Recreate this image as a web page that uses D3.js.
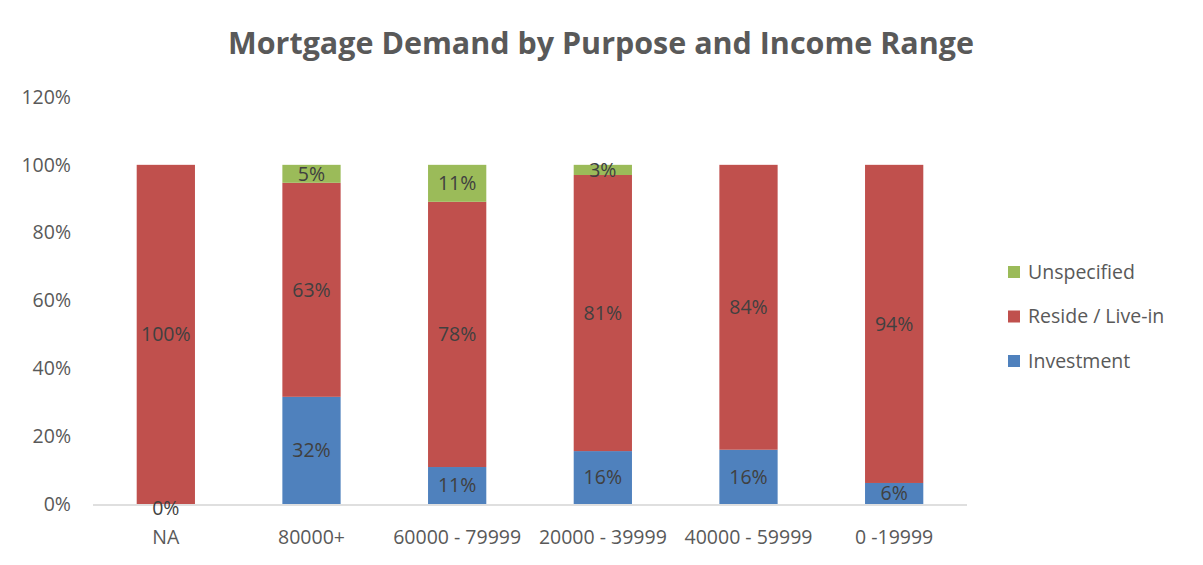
<!DOCTYPE html>
<html>
<head>
<meta charset="utf-8">
<script src="https://cdnjs.cloudflare.com/ajax/libs/d3/7.8.5/d3.min.js"></script>
<style>
  body { margin: 0; background: #fff; }
  svg text { font-family: "Open Sans", "Noto Sans", sans-serif; }
</style>
</head>
<body>
<svg id="chart" width="1203" height="565"></svg>
<script>
// income ranges, in the order shown
var categories = ["NA", "80000+", "60000 - 79999", "20000 - 39999", "40000 - 59999", "0 -19999"];
var investment = [0, 0.316, 0.109, 0.156, 0.16, 0.062];
var reside = [1.0, 0.631, 0.782, 0.814, 0.84, 0.938];
var unspecified = [null, 0.053, 0.109, 0.03, null, null];
var yTicks = [0, 0.2, 0.4, 0.6, 0.8, 1.0, 1.2];

var seriesNames = ["Investment", "Reside / Live-in", "Unspecified"];
var seriesValues = [investment, reside, unspecified];
var colors = ["#4f81bd", "#c0504d", "#9bbb59"];

var FONT = 19.5;

var svg = d3.select("#chart");

var x = d3.scaleBand()
    .domain(categories)
    .range([93, 967])
    .paddingInner(0.6)
    .paddingOuter(0.3);

var y = d3.scaleLinear()
    .domain([0, 1.2])
    .range([504, 97]);

// title
svg.append("text")
    .attr("x", 601)
    .attr("y", 54)
    .attr("text-anchor", "middle")
    .attr("font-size", 31)
    .attr("font-weight", "bold")
    .attr("fill", "#595959")
    .attr("textLength", 746)
    .attr("lengthAdjust", "spacingAndGlyphs")
    .text("Mortgage Demand by Purpose and Income Range");

// y labels (no gridlines in the original)
svg.append("g").selectAll("text")
    .data(yTicks)
    .enter().append("text")
    .attr("x", 71)
    .attr("y", function (d) { return y(d); })
    .attr("dy", "0.35em")
    .attr("text-anchor", "end")
    .attr("font-size", FONT)
    .attr("fill", "#595959")
    .text(function (d) { return Math.round(d * 100) + "%"; });

// stacked bars
var stacks = categories.map(function (c, i) {
    var base = 0;
    return seriesValues.map(function (vals, s) {
        var v = vals[i];
        var seg = { cat: c, s: s, v: v, y0: base, y1: base + (v || 0) };
        base = seg.y1;
        return seg;
    });
});
var segs = d3.merge(stacks);

svg.append("g").selectAll("rect")
    .data(segs.filter(function (d) { return d.v; }))
    .enter().append("rect")
    .attr("x", function (d) { return x(d.cat); })
    .attr("width", x.bandwidth())
    .attr("y", function (d) { return y(d.y1); })
    .attr("height", function (d) { return y(d.y0) - y(d.y1); })
    .attr("fill", function (d) { return colors[d.s]; });

// x axis line
svg.append("line")
    .attr("x1", 93).attr("x2", 967)
    .attr("y1", 505).attr("y2", 505)
    .attr("stroke", "#bfbfbf")
    .attr("stroke-width", 1);

// data labels
svg.append("g").selectAll("text")
    .data(segs.filter(function (d) { return d.v != null; }))
    .enter().append("text")
    .attr("x", function (d) { return x(d.cat) + x.bandwidth() / 2; })
    .attr("y", function (d) { return d.v === 0 ? y(0) + 4 : (y(d.y0) + y(d.y1)) / 2; })
    .attr("dy", "0.35em")
    .attr("text-anchor", "middle")
    .attr("font-size", FONT)
    .attr("fill", "#404040")
    .text(function (d) { return Math.round(d.v * 100) + "%"; });

// category labels
svg.append("g").selectAll("text")
    .data(categories)
    .enter().append("text")
    .attr("x", function (d) { return x(d) + x.bandwidth() / 2; })
    .attr("y", 537)
    .attr("dy", "0.35em")
    .attr("text-anchor", "middle")
    .attr("font-size", FONT)
    .attr("fill", "#595959")
    .text(function (d) { return d; });

// legend, reversed like Excel
var legendOrder = [2, 1, 0];
var legend = svg.append("g").selectAll("g")
    .data(legendOrder)
    .enter().append("g")
    .attr("transform", function (d, i) { return "translate(1008," + (272 + i * 44.5) + ")"; });

legend.append("rect")
    .attr("x", 0).attr("y", -6)
    .attr("width", 12).attr("height", 12)
    .attr("fill", function (d) { return colors[d]; });

legend.append("text")
    .attr("x", 20)
    .attr("dy", "0.35em")
    .attr("font-size", FONT)
    .attr("fill", "#595959")
    .text(function (d) { return seriesNames[d]; });
</script>
</body>
</html>
